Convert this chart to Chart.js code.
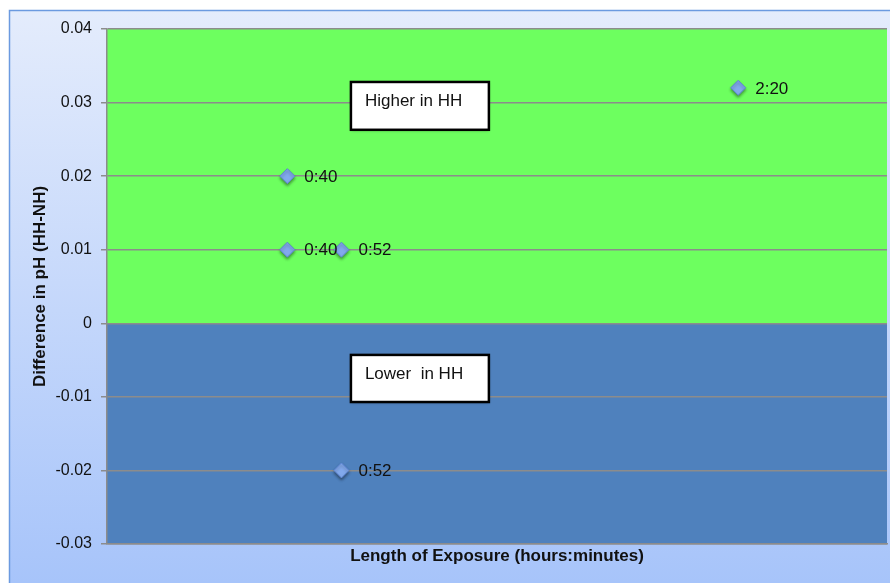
<!DOCTYPE html>
<html>
<head>
<meta charset="utf-8">
<script src="https://cdn.jsdelivr.net/npm/chart.js@4"></script>
<style>
  html, body { margin: 0; padding: 0; background: #fff; }
  #wrap { width: 890px; height: 583px; }
</style>
</head>
<body>
<div id="wrap"><canvas id="phChart" width="890" height="583"></canvas></div>
<script>
// exposure time in minutes, pH difference (HH-NH), and the label shown next to each point
const minutes = [40, 40, 52, 140, 52];
const phDiff = [0.02, 0.01, 0.01, 0.032, -0.02];
const timeLabels = ['0:40', '0:40', '0:52', '2:20', '0:52'];

const yTicks = [0.04, 0.03, 0.02, 0.01, 0, -0.01, -0.02, -0.03];
const noteTexts = ['Higher in HH', 'Lower  in HH'];
const FONT = 'Helvetica, "Liberation Sans", Arial, sans-serif';

// boxes for the two notes, in data units (minutes, pH)
const notes = [
    { text: noteTexts[0], x0: 54.1, x1: 84.7, y0: 0.0328, y1: 0.0263 },
    { text: noteTexts[1], x0: 54.1, x1: 84.7, y0: -0.0043, y1: -0.0107 }
];

const backdrop = {
    id: 'backdrop',
    beforeDraw(chart) {
        const ctx = chart.ctx;
        const area = chart.chartArea;
        ctx.save();
        // outer panel gradient
        const g = ctx.createLinearGradient(0, 10, 0, 583);
        g.addColorStop(0, '#e4ecfc');
        g.addColorStop(1, '#a7c4fa');
        ctx.fillStyle = g;
        ctx.fillRect(9, 10, 881, 573);
        ctx.strokeStyle = '#6b9ae0';
        ctx.lineWidth = 1.5;
        ctx.beginPath();
        ctx.moveTo(9.5, 583);
        ctx.lineTo(9.5, 10.5);
        ctx.lineTo(890, 10.5);
        ctx.stroke();
        // green above zero, blue below
        const zero = chart.scales.y.getPixelForValue(0);
        ctx.fillStyle = '#6dff5f';
        ctx.fillRect(area.left, area.top, area.right - area.left, zero - area.top);
        ctx.fillStyle = '#4f81bd';
        ctx.fillRect(area.left, zero, area.right - area.left, area.bottom - zero);
        ctx.restore();
    },
    beforeDatasetsDraw(chart) {
        const ctx = chart.ctx;
        const xs = chart.scales.x, ys = chart.scales.y;
        ctx.save();
        notes.forEach(n => {
            const l = xs.getPixelForValue(n.x0), r = xs.getPixelForValue(n.x1);
            const t = ys.getPixelForValue(n.y0), b = ys.getPixelForValue(n.y1);
            ctx.shadowColor = 'rgba(0,0,0,0.35)';
            ctx.shadowBlur = 3;
            ctx.shadowOffsetY = 1;
            ctx.fillStyle = '#fff';
            ctx.fillRect(l, t, r - l, b - t);
            ctx.shadowColor = 'transparent';
            ctx.strokeStyle = '#000';
            ctx.lineWidth = 2.5;
            ctx.strokeRect(l, t, r - l, b - t);
            ctx.fillStyle = '#111';
            ctx.font = '17px ' + FONT;
            ctx.textBaseline = 'middle';
            ctx.textAlign = 'left';
            ctx.fillText(n.text, l + 14, t + 19);
        });
        ctx.restore();
        // marker shadow
        ctx.save();
        ctx.shadowColor = 'rgba(0,0,0,0.4)';
        ctx.shadowBlur = 3;
        ctx.shadowOffsetY = 2;
    },
    afterDatasetsDraw(chart) {
        const ctx = chart.ctx;
        ctx.restore();
        ctx.save();
        ctx.fillStyle = '#111';
        ctx.font = '17px ' + FONT;
        ctx.textBaseline = 'middle';
        ctx.textAlign = 'left';
        chart.getDatasetMeta(0).data.forEach((pt, i) => {
            ctx.fillText(timeLabels[i], pt.x + 17, pt.y + 1);
        });
        ctx.restore();
    }
};

const ctx = document.getElementById('phChart').getContext('2d');
new Chart(ctx, {
    type: 'scatter',
    data: {
        datasets: [{
            label: 'pH difference',
            data: minutes.map((m, i) => ({ x: m, y: phDiff[i] })),
            pointStyle: 'rectRot',
            pointRadius: 7.5,
            pointHoverRadius: 7.5,
            backgroundColor: '#82a9ec',
            borderColor: '#5d86d4',
            borderWidth: 1
        }]
    },
    options: {
        responsive: false,
        animation: false,
        events: [],
        layout: { autoPadding: false, padding: { top: 29, right: 3, left: 0, bottom: 0 } },
        plugins: {
            legend: { display: false },
            tooltip: { enabled: false }
        },
        scales: {
            x: {
                type: 'linear',
                min: 0,
                max: 173,
                grid: { display: false },
                border: { display: true, color: '#8c8c8c', width: 1.5 },
                ticks: { display: false },
                title: {
                    display: true,
                    text: 'Length of Exposure (hours:minutes)',
                    color: '#111',
                    font: { family: FONT, size: 17, weight: 'bold' },
                    padding: { top: 16, bottom: 16 }
                },
                afterFit(scale) { scale.height = 39; }
            },
            y: {
                min: -0.03,
                max: 0.04,
                afterBuildTicks(scale) { scale.ticks = yTicks.map(v => ({ value: v })); },
                grid: { color: '#8c8c8c', lineWidth: 1.5, tickLength: 6 },
                border: { display: true, color: '#8c8c8c', width: 1.5 },
                ticks: {
                    color: '#111',
                    padding: 9,
                    font: { family: FONT, size: 16 },
                    callback: v => String(Math.round(v * 100) / 100)
                },
                title: {
                    display: true,
                    text: 'Difference in pH (HH-NH)',
                    color: '#111',
                    font: { family: FONT, size: 17, weight: 'bold' },
                    padding: { top: 30, bottom: 30 }
                },
                afterFit(scale) { scale.width = 107; }
            }
        }
    },
    plugins: [backdrop]
});
</script>
</body>
</html>
